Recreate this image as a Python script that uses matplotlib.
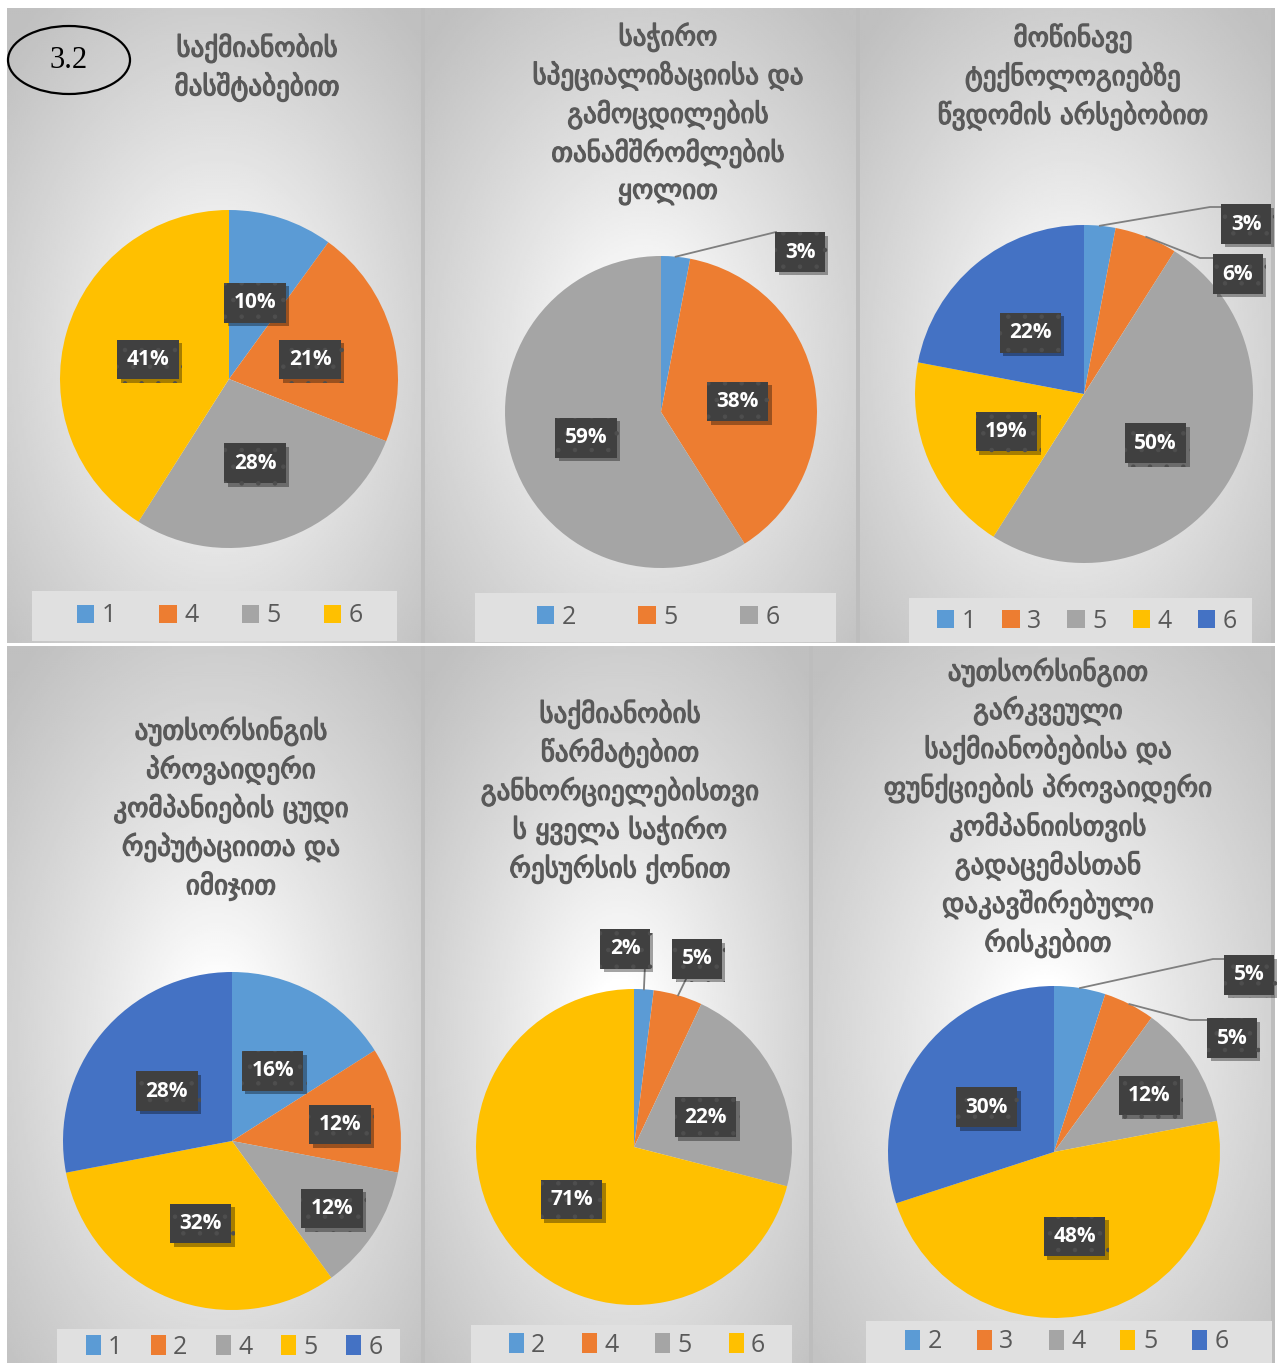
import numpy as np
import matplotlib
matplotlib.use("Agg")
import matplotlib.pyplot as plt
from matplotlib.patches import Rectangle, Ellipse
import matplotlib.patheffects as pe

W, H = 1282, 1363
DPI = 100

PALETTE = ["#5B9BD5", "#ED7D31", "#A5A5A5", "#FFC000", "#4472C4"]
TEXT_GRAY = "#595959"

# ---- data -------------------------------------------------------------
titles = [
    ["საქმიანობის", "მასშტაბებით"],
    ["საჭირო", "სპეციალიზაციისა და", "გამოცდილების", "თანამშრომლების", "ყოლით"],
    ["მოწინავე", "ტექნოლოგიებზე", "წვდომის არსებობით"],
    ["აუთსორსინგის", "პროვაიდერი", "კომპანიების ცუდი", "რეპუტაციითა და", "იმიჯით"],
    ["საქმიანობის", "წარმატებით", "განხორციელებისთვი", "ს ყველა საჭირო", "რესურსის ქონით"],
    ["აუთსორსინგით", "გარკვეული", "საქმიანობებისა და", "ფუნქციების პროვაიდერი",
     "კომპანიისთვის", "გადაცემასთან", "დაკავშირებული", "რისკებით"],
]

categories_1 = ["1", "4", "5", "6"]
values_1 = [10, 21, 28, 41]

categories_2 = ["2", "5", "6"]
values_2 = [3, 38, 59]

categories_3 = ["1", "3", "5", "4", "6"]
values_3 = [3, 6, 50, 19, 22]

categories_4 = ["1", "2", "4", "5", "6"]
values_4 = [16, 12, 12, 32, 28]

categories_5 = ["2", "4", "5", "6"]
values_5 = [2, 5, 22, 71]

categories_6 = ["2", "3", "4", "5", "6"]
values_6 = [5, 5, 12, 48, 30]

panel_data = [
    (categories_1, values_1), (categories_2, values_2), (categories_3, values_3),
    (categories_4, values_4), (categories_5, values_5), (categories_6, values_6),
]

# ---- layout (pixels, origin top-left) --------------------------------
layout = [
    dict(rect=(7, 8, 425, 643), center=(229, 379), r=169,
         title_x=257, title_y=48, legend_box=(32, 591, 397, 641),
         legend_xy=(220, 616), colsp=1.72, inner=0.5, outside={}),
    dict(rect=(425, 8, 860, 643), center=(661, 412), r=156,
         title_x=668, title_y=37, legend_box=(475, 593, 836, 642),
         legend_xy=(658, 617), colsp=2.5, inner=0.5,
         outside={0: dict(box=(800, 248), path=[(776, 232)])}),
    dict(rect=(860, 8, 1275, 643), center=(1084, 394), r=169,
         title_x=1073, title_y=38, legend_box=(909, 598, 1252, 643),
         legend_xy=(1087, 621), colsp=1.04, inner=0.5,
         outside={0: dict(box=(1246, 220), path=[(1210, 207), (1222, 207)]),
                  1: dict(box=(1238, 270), path=[(1200, 258), (1213, 258)])}),
    dict(rect=(7, 646, 425, 1363), center=(232, 1141), r=169,
         title_x=231, title_y=731, legend_box=(57, 1329, 400, 1363),
         legend_xy=(234, 1347), colsp=1.13, inner=0.5,
         inner_override={1: 0.65, 2: 0.70}, outside={}),
    dict(rect=(425, 646, 813, 1363), center=(634, 1147), r=158,
         title_x=620, title_y=714, legend_box=(471, 1325, 792, 1363),
         legend_xy=(637, 1345), colsp=1.46, inner=0.5,
         outside={0: dict(box=(625, 945), path=[(645, 965)]),
                  1: dict(box=(697, 955), path=[(688, 975)])}),
    dict(rect=(813, 646, 1275, 1363), center=(1054, 1152), r=166,
         title_x=1048, title_y=672, legend_box=(866, 1321, 1272, 1363),
         legend_xy=(1067, 1342), colsp=1.4, inner=0.5, inner_override={2: 0.68},
         outside={0: dict(box=(1249, 971), path=[(1213, 959), (1224, 959)]),
                  1: dict(box=(1232, 1034), path=[(1190, 1020), (1207, 1020)])}),
]

TITLE_STEP = 38.7
LABEL_DROP = 4  # px: optical centring of the value text inside its box

fig = plt.figure(figsize=(W / DPI, H / DPI), dpi=DPI)
fig.patch.set_facecolor("white")

canvas = fig.add_axes([0, 0, 1, 1])
canvas.set_xlim(0, W)
canvas.set_ylim(H, 0)
canvas.axis("off")


def radial_background(ax, x0, y0, x1, y1):
    w, h = x1 - x0, y1 - y0
    yy, xx = np.mgrid[0:h:2, 0:w:2]
    cx, cy = w * 0.5, h * 0.55
    d = np.sqrt(((xx - cx) / (w * 0.5)) ** 2 + ((yy - cy) / (h * 0.5)) ** 2) / np.sqrt(2)
    t = np.clip((d - 0.12) / 0.88, 0, 1) ** 0.85
    img = 1.0 - 0.25 * t
    ax.imshow(img, extent=(x0, x1, y1, y0), cmap="gray", vmin=0, vmax=1,
              aspect="auto", interpolation="bilinear", zorder=0)
    ax.add_patch(Rectangle((x1 - 4, y0), 4, h, facecolor="#bdbdbd",
                           edgecolor="none", zorder=1))


def label_box(ax, x, y, text):
    t = ax.text(x, y, text, ha="center", va="center", color="white",
                fontsize=15, fontweight="bold", family="Open Sans",
                zorder=10, clip_on=False,
                bbox=dict(boxstyle="square,pad=0.45", facecolor="#404040",
                          edgecolor="#4e4e4e", linewidth=0, hatch="."))
    t.get_bbox_patch().set_path_effects(
        [pe.SimplePatchShadow(offset=(2.5, -2.5), shadow_rgbFace="black", alpha=0.35),
         pe.Normal()])
    return t


plt.rcParams["hatch.linewidth"] = 0.8

for i, (lay, (cats, vals), title) in enumerate(zip(layout, panel_data, titles)):
    x0, y0, x1, y1 = lay["rect"]
    radial_background(canvas, x0, y0, x1, y1)

    # title lines
    for k, line in enumerate(title):
        canvas.text(lay["title_x"], lay["title_y"] + k * TITLE_STEP, line,
                    ha="center", va="center", fontsize=19.5, color=TEXT_GRAY,
                    family="DejaVu Sans", zorder=5,
                    path_effects=[pe.withStroke(linewidth=0.9, foreground=TEXT_GRAY)])

    # legend box
    lx0, ly0, lx1, ly1 = lay["legend_box"]
    canvas.add_patch(Rectangle((lx0, ly0), lx1 - lx0, ly1 - ly0,
                               facecolor="#e0e0e0", edgecolor="none", zorder=2))

    cx, cy = lay["center"]
    r = lay["r"]
    ax = fig.add_axes([(cx - r) / W, 1 - (cy + r) / H, 2 * r / W, 2 * r / H])

    wedges, _ = ax.pie(vals, colors=PALETTE[:len(vals)], startangle=90,
                       counterclock=False, radius=1.0,
                       wedgeprops=dict(linewidth=0))
    ax.set_xlim(-1, 1)
    ax.set_ylim(-1, 1)
    ax.set_aspect("equal")
    ax.axis("off")

    drop = LABEL_DROP / r
    total = float(sum(vals))
    cum = 0.0
    for j, v in enumerate(vals):
        mid = 90 - 360 * (cum + v / 2) / total
        cum += v
        th = np.deg2rad(mid)
        if j in lay["outside"]:
            spec = lay["outside"][j]
            pts = [(np.cos(th), np.sin(th))]
            for px, py in spec["path"]:
                pts.append(((px - cx) / r, (cy - py) / r))
            xs, ys = zip(*pts)
            ax.plot(xs, ys, color="#7f7f7f", lw=1.3, clip_on=False, zorder=9)
            bx, by = spec["box"]
            label_box(ax, (bx - cx) / r, (cy - by) / r - drop, f"{v}%")
        else:
            d = lay.get("inner_override", {}).get(j, lay["inner"])
            label_box(ax, d * np.cos(th), d * np.sin(th) - drop, f"{v}%")

    bottom_row = i >= 3
    lgx, lgy = lay["legend_xy"]
    fig.legend(wedges, cats, loc="center",
               bbox_to_anchor=(lgx / W, 1 - lgy / H),
               ncol=len(cats), frameon=False,
               handlelength=0.6 if bottom_row else 0.7,
               handleheight=0.85 if bottom_row else 0.7,
               handletextpad=0.3, columnspacing=lay["colsp"],
               prop=dict(family="Open Sans", size=18), labelcolor=TEXT_GRAY)

# chart number badge
canvas.add_patch(Ellipse((69, 60), 122, 68, fill=False, edgecolor="black",
                         linewidth=1.6, zorder=6))
canvas.text(69, 61, "3.2", ha="center", va="center", fontsize=22,
            family="Liberation Serif", color="black", zorder=6)

fig.savefig("out.png", dpi=DPI, facecolor="white")
